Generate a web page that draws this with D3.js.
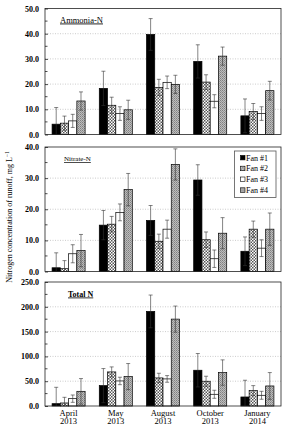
<!DOCTYPE html>
<html><head><meta charset="utf-8">
<script src="https://cdn.jsdelivr.net/npm/d3@7"></script>
<style>body{margin:0;background:#fff}svg{display:block}</style>
</head><body><svg id="c" width="286" height="432"></svg>
<script>
const categories = ["April 2013", "May 2013", "August 2013", "October 2013", "January 2014"];
const fans = ["Fan #1", "Fan #2", "Fan #3", "Fan #4"];
const panelTitles = ["Ammonia-N", "Nitrate-N", "Total N"];
const yMaxes = [50, 40, 250];
const yStepTicks = [10, 10, 50];
// rows = month, cols = fan
const ammoniaMean = [[4.1,4.5,5.4,13.3],[18.3,11.6,8.3,9.8],[39.7,18.7,20.7,19.9],[29.0,20.8,13.2,31.1],[7.4,9.1,8.3,17.4]];
const ammoniaErr  = [[6.6,2.8,2.6,3.6],[6.8,3.2,2.7,3.8],[6.3,3.2,2.5,3.6],[6.6,2.9,2.6,3.6],[6.7,3.2,2.7,3.7]];
const nitrateMean = [[1.2,0.9,5.7,6.7],[14.9,15.2,19.0,26.3],[16.4,9.7,13.6,34.4],[29.4,10.2,4.1,12.3],[6.5,13.6,7.5,13.6]];
const nitrateErr  = [[4.8,2.6,2.9,5.2],[4.7,2.5,2.7,5.2],[4.8,2.3,2.9,5.0],[4.9,2.5,2.8,5.0],[4.6,2.6,2.7,5.2]];
const totalMean   = [[4.7,6.1,14.8,29.6],[41.1,68.7,50.5,59.3],[190.7,56.6,54.6,175.2],[72.1,49.9,23.6,67.4],[18.2,31.0,21.6,40.4]];
const totalErr    = [[33,11.4,7.4,25.7],[34.4,10.1,7.5,26.3],[33,9.4,6.7,26.3],[33.7,10.1,8.1,25.6],[33.7,10.1,8,27]];
const yLabel = "Nitrogen concentration of runoff, mg L";

const means = [ammoniaMean, nitrateMean, totalMean];
const errs = [ammoniaErr, nitrateErr, totalErr];
const panels = [[8.5,134.5],[147,271.5],[282,406]];
const L = 45, R = 281;
const serif = "'Liberation Serif','Times New Roman',serif";

const svg = d3.select("#c");
svg.append("rect").attr("width",286).attr("height",432).attr("fill","#fff");
const defs = svg.append("defs");
// Fan #2 : fine checker
const p2 = defs.append("pattern").attr("id","p2").attr("patternUnits","userSpaceOnUse").attr("width",3).attr("height",3);
p2.append("rect").attr("width",3).attr("height",3).attr("fill","#fff");
p2.append("rect").attr("width",1.5).attr("height",1.5).attr("fill","#555");
p2.append("rect").attr("x",1.5).attr("y",1.5).attr("width",1.5).attr("height",1.5).attr("fill","#555");
// Fan #4 : gray stipple
const p4 = defs.append("pattern").attr("id","p4").attr("patternUnits","userSpaceOnUse").attr("width",2).attr("height",2);
p4.append("rect").attr("width",2).attr("height",2).attr("fill","#bdbdbd");
p4.append("rect").attr("width",1).attr("height",1).attr("fill","#808080");
p4.append("rect").attr("x",1).attr("y",1).attr("width",1).attr("height",1).attr("fill","#959595");
const fills = ["#000","url(#p2)","#fff","url(#p4)"];

const x0 = d3.scaleBand().domain(categories).range([L,R]).paddingInner(0.3).paddingOuter(0.15);
const x1 = d3.scaleBand().domain(fans).range([0,x0.bandwidth()]);

panels.forEach(([top,bot],pi)=>{
  const y = d3.scaleLinear().domain([0,yMaxes[pi]]).range([bot,top]);
  const g = svg.append("g");
  const ticks = d3.range(0, yMaxes[pi]+0.001, yStepTicks[pi]);
  const minor = d3.range(yStepTicks[pi]/2, yMaxes[pi], yStepTicks[pi]);
  g.selectAll(".grid").data(ticks.filter(t=>t>0 && t<yMaxes[pi])).join("line")
    .attr("x1",L).attr("x2",R).attr("y1",d=>y(d)).attr("y2",d=>y(d))
    .attr("stroke","#aaa").attr("stroke-width",0.6).attr("stroke-dasharray","1,1.5");
  const ax = g.append("g").attr("transform",`translate(${L},0)`)
    .call(d3.axisLeft(y).tickValues(ticks).tickFormat(d3.format(".1f")).tickSize(-3).tickPadding(6));
  ax.select(".domain").remove();
  ax.selectAll("line").attr("stroke","#000").attr("stroke-width",0.7);
  ax.selectAll("text").attr("font-family",serif).attr("font-weight","bold").attr("font-size",8).attr("fill","#000");
  g.selectAll(".minor").data(minor).join("line")
    .attr("x1",L).attr("x2",L+2.5).attr("y1",d=>y(d)).attr("y2",d=>y(d)).attr("stroke","#000").attr("stroke-width",0.7);
  const data = [];
  categories.forEach((c,ci)=>fans.forEach((f,fi)=>data.push({c,f,fi,v:means[pi][ci][fi],e:errs[pi][ci][fi]})));
  const bx = d=>x0(d.c)+x1(d.f);
  g.selectAll(".bar").data(data).join("rect")
    .attr("x",bx).attr("width",x1.bandwidth()).attr("y",d=>y(d.v)).attr("height",d=>y(0)-y(d.v))
    .attr("fill",d=>fills[d.fi]).attr("stroke","#000").attr("stroke-width",0.7);
  const eb = g.selectAll(".eb").data(data).join("g").attr("stroke","#333").attr("stroke-width",0.6);
  eb.append("line").attr("x1",d=>bx(d)+x1.bandwidth()/2).attr("x2",d=>bx(d)+x1.bandwidth()/2)
    .attr("y1",d=>y(Math.max(0,d.v-d.e))).attr("y2",d=>y(d.v+d.e));
  eb.append("line").attr("x1",d=>bx(d)+x1.bandwidth()/2-2).attr("x2",d=>bx(d)+x1.bandwidth()/2+2)
    .attr("y1",d=>y(d.v+d.e)).attr("y2",d=>y(d.v+d.e));
  eb.filter(d=>d.v-d.e>0).append("line").attr("x1",d=>bx(d)+x1.bandwidth()/2-2).attr("x2",d=>bx(d)+x1.bandwidth()/2+2)
    .attr("y1",d=>y(d.v-d.e)).attr("y2",d=>y(d.v-d.e));
  g.append("rect").attr("x",L).attr("y",top).attr("width",R-L).attr("height",bot-top)
    .attr("fill","none").attr("stroke","#222").attr("stroke-width",0.8);
  const tpos = [[60,22.5,8.5,"normal"],[64,161,7,"normal"],[68,296.5,8,"bold"]][pi];
  g.append("text").attr("x",tpos[0]).attr("y",tpos[1]).attr("font-family",serif).attr("font-size",tpos[2])
    .attr("font-weight",tpos[3]).attr("text-decoration","underline").text(panelTitles[pi]);
});

const xl = svg.append("g").selectAll("text").data(categories).join("text")
  .attr("font-family",serif).attr("font-size",8.5).attr("text-anchor","middle");
xl.append("tspan").attr("x",d=>x0(d)+x0.bandwidth()/2).attr("y",415.5).text(d=>d.split(" ")[0]);
xl.append("tspan").attr("x",d=>x0(d)+x0.bandwidth()/2).attr("y",424).text(d=>d.split(" ")[1]);

const yl = svg.append("text").attr("transform","translate(12,217) rotate(-90)")
  .attr("font-family",serif).attr("font-size",8).attr("text-anchor","middle");
yl.append("tspan").text(yLabel);
yl.append("tspan").attr("font-size",5.5).attr("dy",-3).text("−1");

const lg = svg.append("g");
lg.append("rect").attr("x",234.5).attr("y",151).attr("width",41.5).attr("height",46.5)
  .attr("fill","#fff").attr("stroke","#555").attr("stroke-width",0.8);
const li = lg.selectAll(".li").data(fans).join("g").attr("transform",(d,i)=>`translate(240.5,${157.7+i*10.8})`);
li.append("rect").attr("x",0).attr("y",-2.3).attr("width",4.5).attr("height",4.5).attr("fill",(d,i)=>fills[i]).attr("stroke","#000").attr("stroke-width",0.6);
li.append("text").attr("x",5.5).attr("y",2.8).attr("font-family",serif).attr("font-size",8).text(d=>d);
</script></body></html>
